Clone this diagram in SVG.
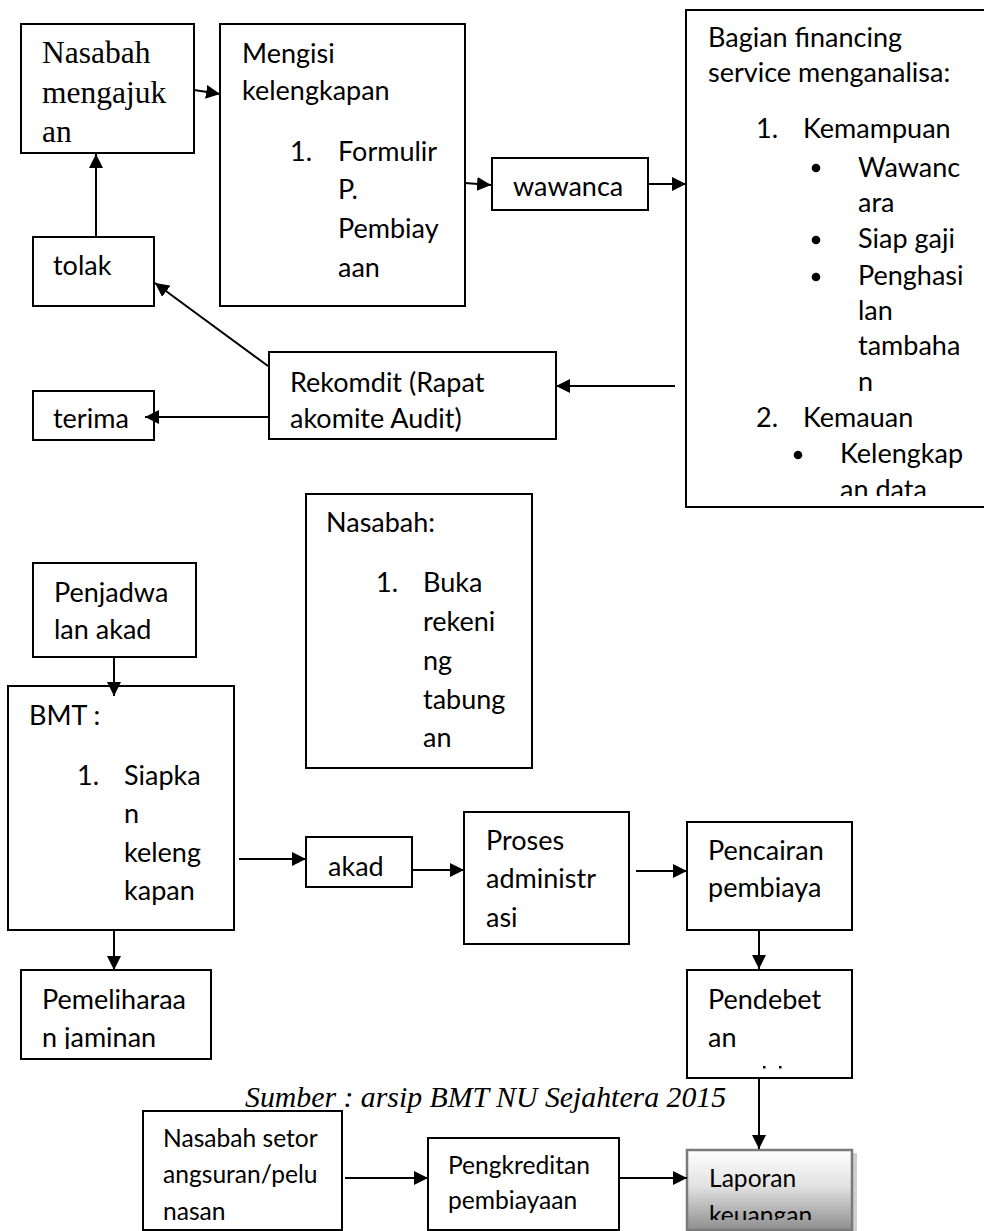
<svg xmlns="http://www.w3.org/2000/svg" width="984" height="1231" viewBox="0 0 984 1231">
<style>
.box{fill:#fff;stroke:#000;stroke-width:2}
.t{font-family:Lato,"Liberation Sans",sans-serif;font-size:27px;fill:#000}
.ts{font-family:Lato,"Liberation Sans",sans-serif;font-size:24.6px;fill:#000}
.tr{font-family:"Liberation Serif","Times New Roman",serif;font-size:31.5px;fill:#000}
.ti{font-family:"Liberation Serif","Times New Roman",serif;font-size:29.8px;font-style:italic;fill:#000}
.c{stroke:#000;stroke-width:2;fill:none;marker-end:url(#ah)}
</style>
<defs>
<marker id="ah" markerUnits="userSpaceOnUse" markerWidth="15" markerHeight="14" refX="14" refY="7" orient="auto">
<path d="M0,0 L14,7 L0,14 z" fill="#000"/>
</marker>
<linearGradient id="g1" x1="0" y1="0" x2="0" y2="1">
<stop offset="0" stop-color="#ffffff"/>
<stop offset="0.45" stop-color="#e2e2e2"/>
<stop offset="1" stop-color="#8e8e8e"/>
</linearGradient>
<clipPath id="cpBag"><rect x="686" y="10" width="300" height="486"/></clipPath>
<clipPath id="cpPem"><rect x="21" y="970" width="190" height="79"/></clipPath>
<clipPath id="cpLap"><rect x="687" y="1150" width="165" height="70"/></clipPath>
</defs>
<rect width="984" height="1231" fill="#fff"/>

<g id="n-nasabah-mengajukan">
<rect class="box" x="21" y="24" width="173" height="129"/>
<text class="tr" x="42" y="63">Nasabah</text>
<text class="tr" x="42" y="103">mengajuk</text>
<text class="tr" x="42" y="142">an</text>
</g>

<g id="n-mengisi">
<rect class="box" x="220" y="24" width="245" height="282"/>
<text class="t" x="242" y="63">Mengisi</text>
<text class="t" x="242" y="100">kelengkapan</text>
<text class="t" x="290" y="161">1.</text>
<text class="t" x="338" y="161">Formulir</text>
<text class="t" x="338" y="199">P.</text>
<text class="t" x="338" y="238">Pembiay</text>
<text class="t" x="338" y="277">aan</text>
</g>

<g id="n-wawanca">
<rect class="box" x="492" y="158" width="156" height="52"/>
<text class="t" x="513" y="196">wawanca</text>
</g>

<g id="n-bagian">
<rect class="box" x="686" y="10" width="304" height="497"/>
<g clip-path="url(#cpBag)">
<text class="t" x="708" y="47">Bagian financing</text>
<text class="t" x="708" y="82">service menganalisa:</text>
<text class="t" x="756" y="138">1.</text>
<text class="t" x="803" y="138">Kemampuan</text>
<circle cx="816" cy="168" r="4.3"/>
<text class="t" x="858" y="177">Wawanc</text>
<text class="t" x="858" y="212">ara</text>
<circle cx="816" cy="240" r="4.3"/>
<text class="t" x="858" y="248">Siap gaji</text>
<circle cx="816" cy="277" r="4.3"/>
<text class="t" x="858" y="285">Penghasi</text>
<text class="t" x="858" y="320">lan</text>
<text class="t" x="858" y="355">tambaha</text>
<text class="t" x="858" y="391">n</text>
<text class="t" x="756" y="427">2.</text>
<text class="t" x="803" y="427">Kemauan</text>
<circle cx="798" cy="455" r="4.3"/>
<text class="t" x="840" y="463">Kelengkap</text>
<text class="t" x="840" y="499">an data</text>
</g>
</g>

<g id="n-rekomdit">
<rect class="box" x="269" y="352" width="287" height="87"/>
<text class="t" x="290" y="392">Rekomdit (Rapat</text>
<text class="t" x="290" y="428">akomite Audit)</text>
</g>

<g id="n-tolak">
<rect class="box" x="33" y="237" width="121" height="69"/>
<text class="t" x="53" y="275">tolak</text>
</g>

<g id="n-terima">
<rect class="box" x="33" y="391" width="121" height="49"/>
<text class="t" x="53" y="428">terima</text>
</g>

<g id="n-nasabah-buka">
<rect class="box" x="306" y="494" width="226" height="274"/>
<text class="t" x="326" y="532">Nasabah:</text>
<text class="t" x="376" y="592">1.</text>
<text class="t" x="423" y="592">Buka</text>
<text class="t" x="423" y="631">rekeni</text>
<text class="t" x="423" y="670">ng</text>
<text class="t" x="423" y="709">tabung</text>
<text class="t" x="423" y="747">an</text>
</g>

<g id="n-penjadwalan">
<rect class="box" x="33" y="563" width="163" height="94"/>
<text class="t" x="54" y="602">Penjadwa</text>
<text class="t" x="54" y="639">lan akad</text>
</g>

<g id="n-bmt">
<rect class="box" x="8" y="686" width="226" height="244"/>
<text class="t" x="29" y="725">BMT :</text>
<text class="t" x="77" y="785">1.</text>
<text class="t" x="124" y="785">Siapka</text>
<text class="t" x="124" y="823">n</text>
<text class="t" x="124" y="862">keleng</text>
<text class="t" x="124" y="900">kapan</text>
</g>

<g id="n-akad">
<rect class="box" x="306" y="837" width="106" height="50"/>
<text class="t" x="328" y="876">akad</text>
</g>

<g id="n-proses">
<rect class="box" x="464" y="812" width="165" height="132"/>
<text class="t" x="486" y="850">Proses</text>
<text class="t" x="486" y="888">administr</text>
<text class="t" x="486" y="927">asi</text>
</g>

<g id="n-pencairan">
<rect class="box" x="687" y="822" width="165" height="108"/>
<text class="t" x="708" y="860">Pencairan</text>
<text class="t" x="708" y="897">pembiaya</text>
</g>

<g id="n-pendebetan">
<rect class="box" x="687" y="970" width="165" height="108"/>
<text class="t" x="708" y="1009">Pendebet</text>
<text class="t" x="708" y="1047">an</text>
<rect x="763" y="1066" width="2.5" height="2.5" fill="#000"/>
<rect x="779" y="1066" width="2.5" height="2.5" fill="#000"/>
</g>

<g id="n-pemeliharaan">
<rect class="box" x="21" y="970" width="190" height="89"/>
<g clip-path="url(#cpPem)">
<text class="t" x="42" y="1009">Pemeliharaa</text>
<text class="t" x="42" y="1047">n jaminan</text>
</g>
</g>

<g id="caption">
<text class="ti" x="245" y="1107">Sumber : arsip BMT NU Sejahtera 2015</text>
</g>

<g id="n-nasabah-setor">
<rect class="box" x="143" y="1111" width="199" height="119"/>
<text class="ts" x="163" y="1147">Nasabah setor</text>
<text class="ts" x="163" y="1183">angsuran/pelu</text>
<text class="ts" x="163" y="1220">nasan</text>
</g>

<g id="n-pengkreditan">
<rect class="box" x="428" y="1138" width="191" height="92"/>
<text class="ts" x="448" y="1174">Pengkreditan</text>
<text class="ts" x="448" y="1209">pembiayaan</text>
</g>

<g id="n-laporan">
<rect x="690" y="1153" width="167" height="80" fill="#cfcfcf"/>
<rect x="687" y="1150" width="165" height="80" fill="url(#g1)" stroke="#7a7a7a" stroke-width="2.5"/>
<g clip-path="url(#cpLap)">
<text class="ts" x="709" y="1187">Laporan</text>
<text class="ts" x="709" y="1224">keuangan</text>
</g>
</g>

<g id="connectors">
<path class="c" d="M194,90 L220,94"/>
<path class="c" d="M465,183 L491,185"/>
<path class="c" d="M648,184 L686,184"/>
<path class="c" d="M675,386 L556,386"/>
<path class="c" d="M268,366 L155,283"/>
<path class="c" d="M269,417 L145,417"/>
<path class="c" d="M96,237 L96,154"/>
<path class="c" d="M114,657 L114,696"/>
<path class="c" d="M239,859 L306,859"/>
<path class="c" d="M413,870 L464,870"/>
<path class="c" d="M636,871 L687,871"/>
<path class="c" d="M759,930 L759,969"/>
<path class="c" d="M114,930 L114,970"/>
<path class="c" d="M759,1078 L759,1149"/>
<path class="c" d="M345,1178 L428,1178"/>
<path class="c" d="M619,1178 L687,1178"/>
</g>
</svg>
